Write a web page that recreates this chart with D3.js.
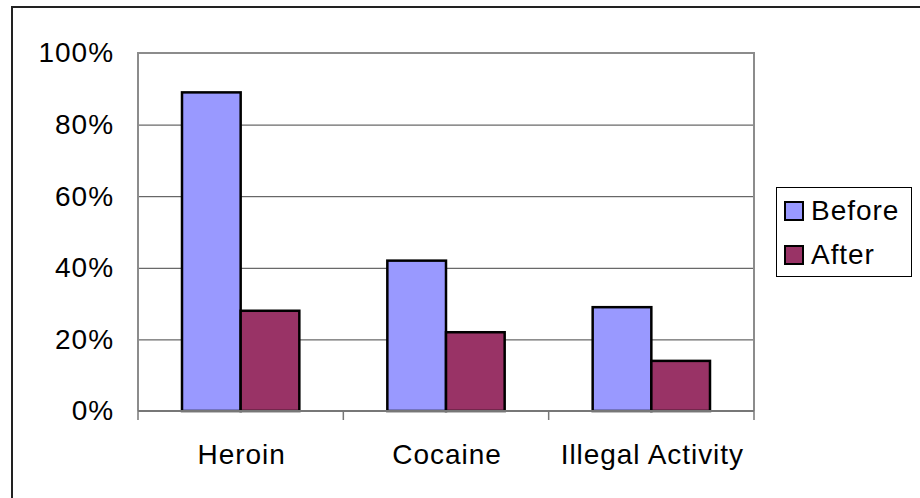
<!DOCTYPE html>
<html>
<head>
<meta charset="utf-8">
<script src="https://cdn.jsdelivr.net/npm/d3@7"></script>
<style>
  html, body { margin: 0; padding: 0; background: #fff; }
  svg { display: block; font-family: "Liberation Sans", Arial, sans-serif; }
  text { letter-spacing: 0.95px; }
</style>
</head>
<body>
<svg id="chart" width="920" height="498"></svg>
<script>
// Share of participants reporting each behaviour, before and after treatment
const categories = ["Heroin", "Cocaine", "Illegal Activity"];
const seriesNames = ["Before", "After"];
const beforeValues = [0.89, 0.42, 0.29];
const afterValues = [0.28, 0.22, 0.14];
const yTicks = [0, 0.2, 0.4, 0.6, 0.8, 1.0];
const seriesColors = ["#9999FF", "#993366"];

const svg = d3.select("#chart");
const W = 920, H = 498;

// Outer chart frame (runs off the right and bottom edges)
svg.append("rect")
  .attr("x", 12).attr("y", 7)
  .attr("width", W + 20).attr("height", H + 20)
  .attr("fill", "#fff").attr("stroke", "#222").attr("stroke-width", 2);

const plot = { left: 138, top: 53, right: 754, bottom: 411 };

const x0 = d3.scaleBand()
  .domain(categories)
  .range([plot.left, plot.right])
  .paddingInner(0).paddingOuter(0);

const barW = x0.bandwidth() / 3.5; // gap width 150%
const x1 = d3.scaleBand()
  .domain(seriesNames)
  .range([0, barW * 2]);

const y = d3.scaleLinear().domain([0, 1]).range([plot.bottom, plot.top]);

// Horizontal gridlines
svg.append("g")
  .selectAll("line")
  .data(yTicks.filter(t => t > 0 && t < 1))
  .join("line")
  .attr("x1", plot.left).attr("x2", plot.right)
  .attr("y1", d => y(d) + 0.5).attr("y2", d => y(d) + 0.5)
  .attr("stroke", "#444").attr("stroke-width", 1);

// Plot area frame: left, top, right
svg.append("path")
  .attr("d", `M${plot.left},${plot.bottom} V${plot.top} H${plot.right} V${plot.bottom}`)
  .attr("fill", "none").attr("stroke", "#8c8c8c").attr("stroke-width", 2);

// Bars
const rows = categories.map((c, i) => ({ cat: c, vals: [beforeValues[i], afterValues[i]] }));
const groups = svg.append("g")
  .selectAll("g")
  .data(rows)
  .join("g")
  .attr("transform", d => `translate(${x0(d.cat) + (x0.bandwidth() - barW * 2) / 2},0)`);

groups.selectAll("rect")
  .data(d => d.vals.map((v, j) => ({ name: seriesNames[j], v, j })))
  .join("rect")
  .attr("x", d => x1(d.name))
  .attr("y", d => y(d.v))
  .attr("width", x1.bandwidth())
  .attr("height", d => plot.bottom - y(d.v))
  .attr("fill", d => seriesColors[d.j])
  .attr("stroke", "#000").attr("stroke-width", 2.5);

// Y axis labels
const yAxis = d3.axisLeft(y)
  .tickValues(yTicks)
  .tickFormat(d3.format(".0%"))
  .tickSize(0)
  .tickPadding(24);
const ya = svg.append("g")
  .attr("transform", `translate(${plot.left},0)`)
  .call(yAxis);
ya.select(".domain").remove();
ya.selectAll("text")
  .attr("font-size", 28)
  .attr("font-family", "Liberation Sans, Arial, sans-serif")
  .attr("fill", "#000");

// X axis line with category boundary ticks
const boundaries = categories.map(c => x0(c)).concat([plot.right]);
svg.append("line")
  .attr("x1", plot.left).attr("x2", plot.right)
  .attr("y1", plot.bottom).attr("y2", plot.bottom)
  .attr("stroke", "#777").attr("stroke-width", 2);
svg.append("g")
  .selectAll("line")
  .data(boundaries)
  .join("line")
  .attr("x1", d => d).attr("x2", d => d)
  .attr("y1", plot.bottom).attr("y2", plot.bottom + 9)
  .attr("stroke", "#777").attr("stroke-width", 1.5);

// Category labels
svg.append("g")
  .selectAll("text")
  .data(categories)
  .join("text")
  .attr("x", d => x0(d) + x0.bandwidth() / 2 + 1)
  .attr("y", 464)
  .attr("text-anchor", "middle")
  .attr("font-size", 28)
  .attr("fill", "#000")
  .text(d => d);

// Legend
const legend = svg.append("g");
legend.append("rect")
  .attr("x", 776.5).attr("y", 187.5)
  .attr("width", 135).attr("height", 89)
  .attr("fill", "#fff").attr("stroke", "#000").attr("stroke-width", 1);
const items = legend.selectAll("g.item")
  .data(seriesNames)
  .join("g")
  .attr("class", "item")
  .attr("transform", (d, i) => `translate(785,${202 + i * 44})`);
items.append("rect")
  .attr("width", 18).attr("height", 18)
  .attr("fill", (d, i) => seriesColors[i])
  .attr("stroke", "#000").attr("stroke-width", 2);
items.append("text")
  .attr("x", 26).attr("y", 18)
  .attr("font-size", 28)
  .attr("fill", "#000")
  .text(d => d);
</script>
</body>
</html>
